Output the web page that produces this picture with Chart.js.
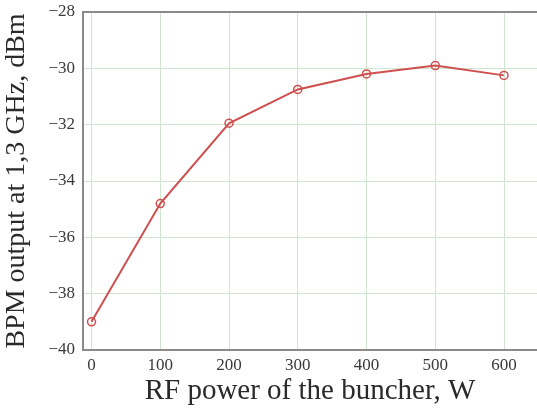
<!DOCTYPE html>
<html>
<head>
<meta charset="utf-8">
<script src="https://cdn.jsdelivr.net/npm/chart.js@4/dist/chart.umd.min.js"></script>
<style>
html,body{margin:0;padding:0;background:#fff;}
#wrap{width:537px;height:409px;position:relative;}
</style>
</head>
<body>
<div id="wrap"><canvas id="c" width="537" height="409"></canvas></div>
<script>
const power = [0, 100, 200, 300, 400, 500, 600];
const bpmOutput = [-39.0, -34.8, -31.95, -30.75, -30.2, -29.9, -30.25];
const xTicks = [0, 100, 200, 300, 400, 500, 600];
const yTicks = [-40, -38, -36, -34, -32, -30, -28];
const xTitle = 'RF power of the buncher, W';
const yTitle = 'BPM output at 1,3 GHz, dBm';

const serif = "'Liberation Serif', 'DejaVu Serif', serif";
const gridColor = '#cfe5cf';
const borderColor = '#8a8a8a';

const topBorder = {
  id: 'topBorder',
  afterDatasetsDraw(chart) {
    const {ctx, chartArea} = chart;
    ctx.save();
    ctx.strokeStyle = borderColor;
    ctx.lineWidth = 2;
    ctx.beginPath();
    ctx.moveTo(chartArea.left - 1, chartArea.top);
    ctx.lineTo(chartArea.right, chartArea.top);
    ctx.stroke();
    ctx.restore();
  }
};

new Chart(document.getElementById('c'), {
  type: 'line',
  data: {
    datasets: [{
      data: power.map((p, i) => ({x: p, y: bpmOutput[i]})),
      borderColor: '#cf4f4f',
      borderWidth: 2,
      pointRadius: 4,
      pointBorderWidth: 1.5,
      pointBackgroundColor: 'rgba(255,255,255,0)',
      pointBorderColor: '#cf4f4f',
      tension: 0
    }]
  },
  options: {
    responsive: false,
    animation: false,
    layout: {autoPadding: false, padding: {top: 12, right: 0, left: 0, bottom: 0}},
    plugins: {legend: {display: false}, tooltip: {enabled: false}},
    scales: {
      x: {
        type: 'linear',
        min: -12.4,
        max: 648,
        afterBuildTicks: s => { s.ticks = xTicks.map(v => ({value: v})); },
        afterFit: s => { s.height = 59; s.paddingLeft = 0; s.paddingRight = 0; },
        grid: {color: gridColor, lineWidth: 1, drawTicks: false},
        border: {color: borderColor, width: 2},
        ticks: {
          color: '#3a3a3a',
          font: {family: serif, size: 17},
          padding: 5,
          maxRotation: 0,
          callback: v => String(v)
        },
        title: {
          display: true,
          text: xTitle,
          color: '#2a2a2a',
          font: {family: serif, size: 29},
          padding: {top: 0, bottom: 0}
        }
      },
      y: {
        type: 'linear',
        min: -40,
        max: -28,
        afterBuildTicks: s => { s.ticks = yTicks.map(v => ({value: v})); },
        afterFit: s => { s.width = 83; s.paddingTop = 0; s.paddingBottom = 0; },
        grid: {color: gridColor, lineWidth: 1, drawTicks: false},
        border: {color: borderColor, width: 2},
        ticks: {
          color: '#3a3a3a',
          font: {family: serif, size: 17},
          padding: 8,
          callback: v => String(v).replace('-', '\u2212')
        },
        title: {
          display: true,
          text: yTitle,
          color: '#2a2a2a',
          font: {family: serif, size: 28},
          padding: {top: 0, bottom: 0}
        }
      }
    }
  },
  plugins: [topBorder]
});
</script>
</body>
</html>
